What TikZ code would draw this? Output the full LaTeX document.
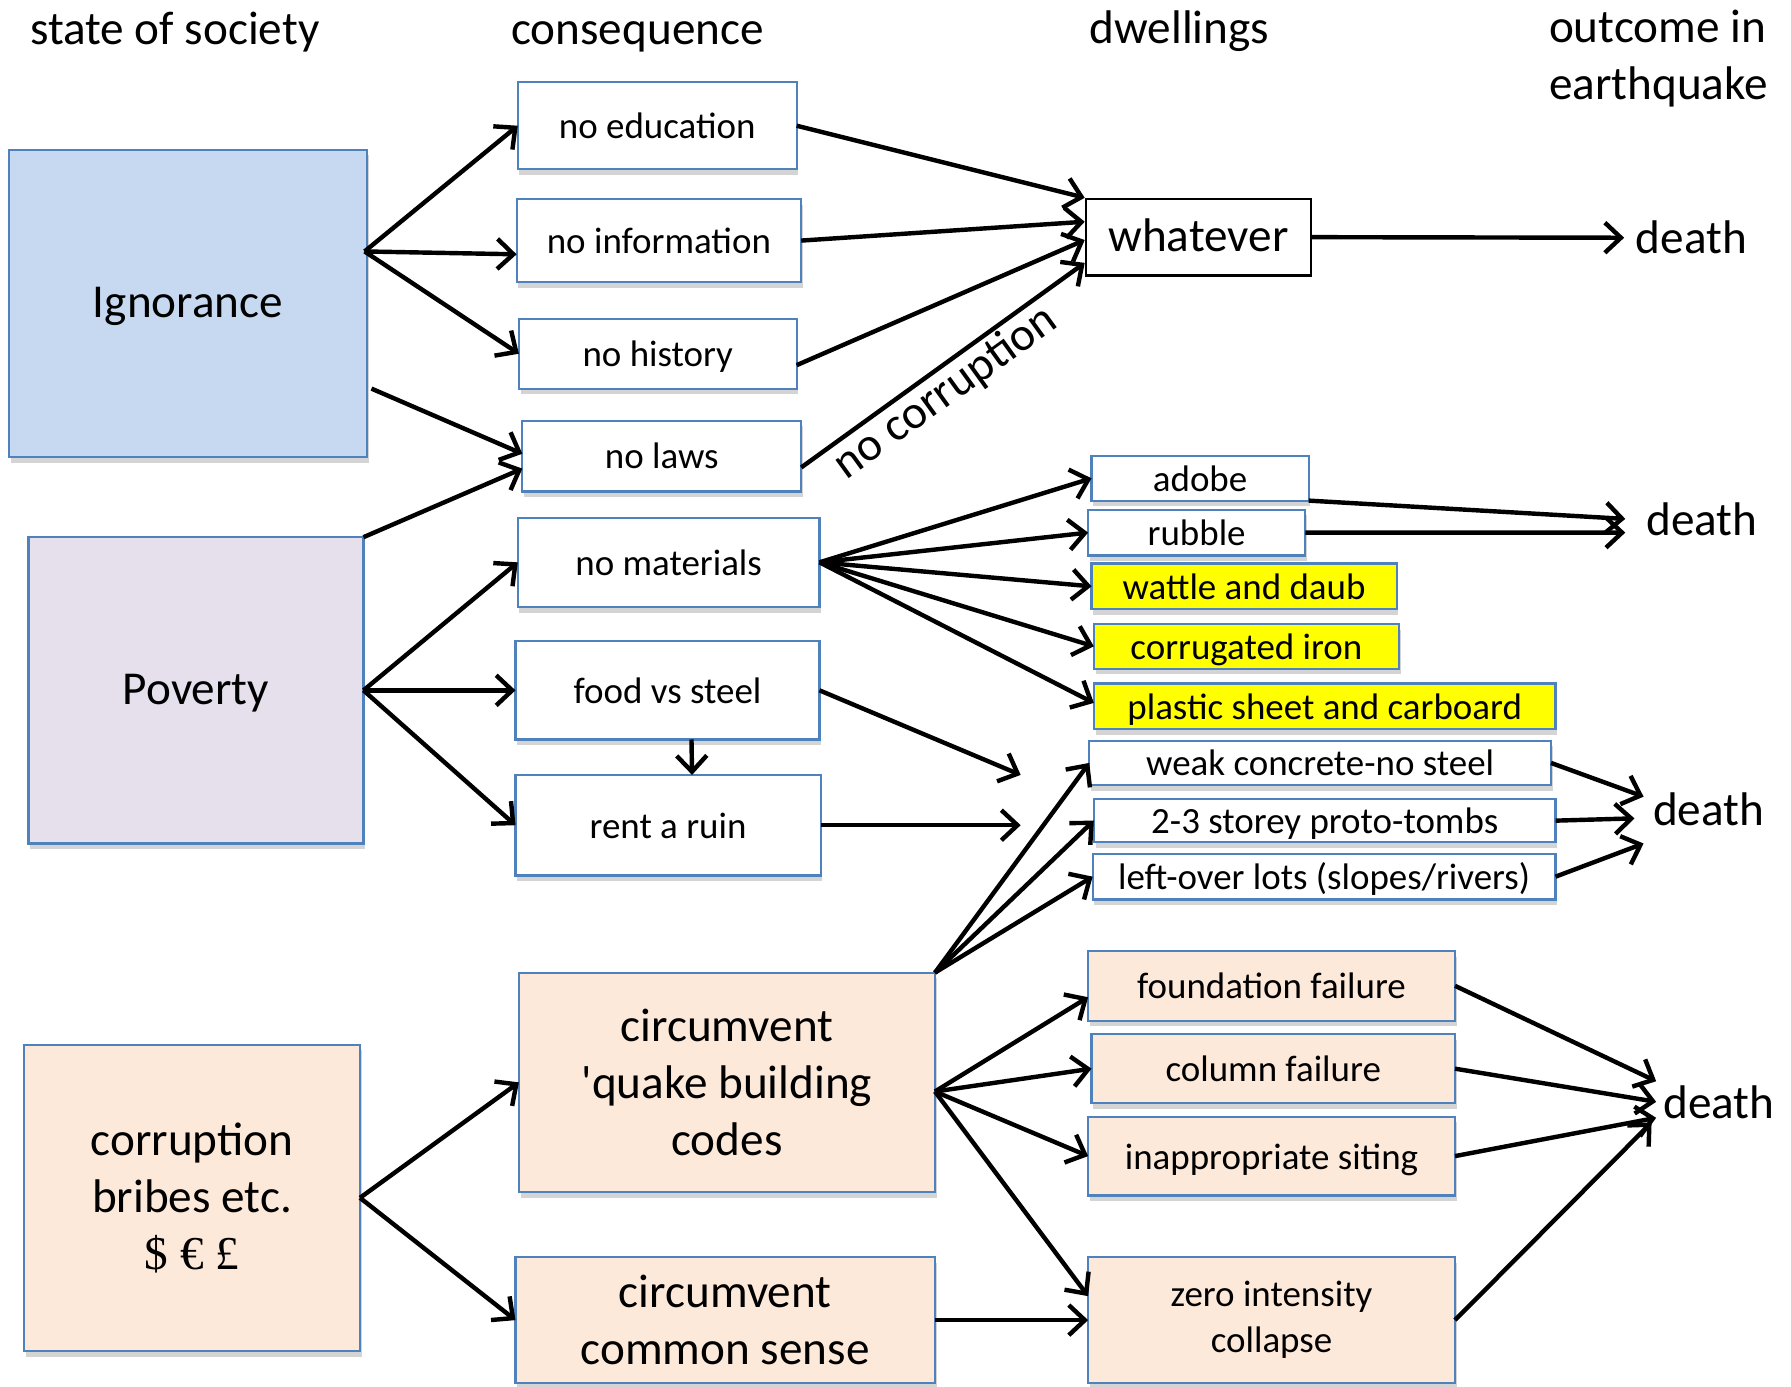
\documentclass[tikz,border=0pt]{standalone}
\usepackage{fontspec}
\setmainfont{Carlito}[Ligatures=TeXOff]
\newfontfamily\serifface{Liberation Serif}
\usetikzlibrary{arrows.meta,shadows,calc}
\definecolor{boxblue}{HTML}{4F81BD}
\definecolor{ignfill}{HTML}{C6D9F1}
\definecolor{povfill}{HTML}{E6E0EC}
\definecolor{peach}{HTML}{FDE9D9}
\definecolor{yel}{HTML}{FFFF00}
\newcommand\bx[7]{%
 \node[#6, minimum width={(#4-#2)*0.02cm}, minimum height={(#5-#3)*0.02cm}] (#1) at ({(#2+#4)/2},{(#3+#5)/2}) {#7};}
\tikzset{
 base/.style={draw=boxblue, line width=1.1pt, inner sep=0pt, outer sep=0pt,
   drop shadow={shadow xshift=0.03cm, shadow yshift=-0.1cm, fill=black!17, opacity=1}},
 bigfont/.style={font=\fontsize{23.5}{28.5}\selectfont},
 smfont/.style={font=\fontsize{18.4}{22.8}\selectfont},
 smbox/.style={base, fill=white, smfont, text height=14.7pt, text depth=1.8pt},
 smmulti/.style={base, smfont, align=center},
 bigbox/.style={base, bigfont, text height=17.6pt, text depth=3.5pt},
 bigmulti/.style={base, bigfont, align=center},
 hdr/.style={font=\fontsize{23.5}{28.5}\selectfont, inner sep=0pt, align=left},
 deathsty/.style={bigfont, inner sep=0pt, anchor=west},
 arr/.style={line width=2.2pt, -{Straight Barb[length=8pt,width=15pt]}},
}
\begin{document}
\begin{tikzpicture}[x=0.02cm,y=-0.02cm]
\useasboundingbox (0,0) rectangle (1567,1213);
% headers
\node[hdr, anchor=base west] (h1) at (26,39) {state of society};
\node[hdr, anchor=base west] (h2) at (447,39) {consequence};
\node[hdr, anchor=base west] (h3) at (953,38) {dwellings};
\node[hdr, anchor=north west] (h4) at (1355,8) {outcome in\\earthquake};
% state boxes
\bx{ign}{8}{131}{321}{400}{bigbox, fill=ignfill}{Ignorance}
\bx{pov}{25}{470}{318}{738}{bigbox, fill=povfill}{Poverty}
\bx{corr}{21}{914}{315}{1182}{bigmulti, fill=peach}{corruption\\bribes etc.\\{\serifface \$ € £}}
% consequences
\bx{noedu}{453}{72}{697}{148}{smbox}{no education}
\bx{noinfo}{452}{174}{701}{247}{smbox}{no information}
\bx{nohist}{454}{279}{697}{340}{smbox}{no history}
\bx{nolaws}{457}{368}{701}{430}{smbox}{no laws}
\bx{nomat}{453}{453}{717}{531}{smbox}{no materials}
\bx{food}{451}{561}{717}{647}{smbox}{food vs steel}
\bx{rent}{451}{678}{718}{766}{smbox}{rent a ruin}
\bx{codes}{454}{851}{818}{1043}{bigmulti, fill=peach}{circumvent\\'quake building\\codes}
\bx{sense}{451}{1100}{818}{1210}{bigmulti, fill=peach}{circumvent\\common sense}
% dwellings
\bx{what}{950}{174}{1147}{241}{draw=black, line width=1.1pt, fill=white, inner sep=0pt, bigfont, text height=17.6pt, text depth=3.5pt}{whatever}
\bx{adobe}{955}{399}{1145}{438}{smbox}{adobe}
\bx{rubble}{952}{446}{1142}{486}{smbox}{rubble}
\bx{wattle}{955}{493}{1222}{533}{smbox, fill=yel}{wattle and daub}
\bx{corrug}{957}{546}{1224}{585}{smbox, fill=yel}{corrugated iron}
\bx{plastic}{957}{598}{1361}{638}{smbox, fill=yel}{plastic sheet and carboard}
\bx{weak}{953}{648}{1357}{687}{smbox}{weak concrete-no steel}
\bx{proto}{957}{699}{1361}{737}{smbox}{2-3 storey proto-tombs}
\bx{left}{956}{747}{1361}{787}{smbox}{left-over lots (slopes/rivers)}
\bx{found}{952}{832}{1273}{893}{smbox, fill=peach}{foundation failure}
\bx{column}{955}{905}{1273}{965}{smbox, fill=peach}{column failure}
\bx{inapp}{952}{977}{1273}{1046}{smbox, fill=peach}{inappropriate siting}
\bx{zero}{952}{1100}{1273}{1210}{smmulti, fill=peach}{zero intensity\\collapse}
% outcomes
\node[deathsty] (d1) at (1431,208) {death};
\node[deathsty] (d2) at (1440,454) {death};
\node[deathsty] (d3) at (1446,708) {death};
\node[deathsty] (d4) at (1455,964) {death};
% named free points
\coordinate (ignfan) at (319,220);
\coordinate (ignlow) at (325,340);
\coordinate (fe) at (893,678);
\coordinate (re) at (893,722);
\coordinate (codesfan) at ([yshift=-0.16cm]codes.east);
% connectors
\draw[arr] (ignfan) -- (noedu.west);
\draw[arr] (ignfan) -- ([yshift=-0.24cm]noinfo.west);
\draw[arr] (ignfan) -- (nohist.west);
\draw[arr] (ignlow) -- ([yshift=0.04cm]nolaws.west);
\draw[arr] (pov.north east) -- ([yshift=-0.22cm]nolaws.west);
\draw[arr] (pov.east) -- (nomat.west);
\draw[arr] (pov.east) -- (food.west);
\draw[arr] (pov.east) -- (rent.west);
\draw[arr] ([xshift=0.42cm]food.south) -- ([xshift=0.42cm]rent.north);
\draw[arr] (food.east) -- (fe);
\draw[arr] (rent.east) -- (re);
\draw[arr] (corr.east) -- (codes.west);
\draw[arr] (corr.east) -- (sense.west);
\draw[arr] (sense.east) -- (zero.west);
\draw[arr] (codes.north east) -- (weak.west);
\draw[arr] (codes.north east) -- (proto.west);
\draw[arr] (codes.north east) -- (left.west);
\draw[arr] (codesfan) -- ([yshift=-0.2cm]found.west);
\draw[arr] (codesfan) -- (column.west);
\draw[arr] (codesfan) -- (inapp.west);
\draw[arr] (codesfan) -- ([yshift=0.42cm]zero.west);
\draw[arr] (nomat.east) -- (adobe.west);
\draw[arr] (nomat.east) -- (rubble.west);
\draw[arr] (nomat.east) -- (wattle.west);
\draw[arr] (nomat.east) -- (corrug.west);
\draw[arr] (nomat.east) -- ([yshift=0.06cm]plastic.west);
\draw[arr] (noedu.east) -- (what.north west);
\draw[arr] (noinfo.east) -- ([yshift=0.27cm]what.west);
\draw[arr] ([yshift=-0.2cm]nohist.east) -- ([yshift=-0.05cm]what.west);
\draw[arr] ([yshift=-0.2cm]nolaws.east) -- node[sloped, below, pos=0.46, bigfont, inner sep=1pt] {no corruption} ([yshift=-0.45cm]what.west);
\draw[arr] (what.east) -- ([xshift=-0.2cm]d1.west);
\draw[arr] (adobe.south east) -- ([xshift=-0.36cm]d2.west);
\draw[arr] (rubble.east) -- ([xshift=-0.36cm,yshift=-0.24cm]d2.west);
\draw[arr] (weak.east) -- ([xshift=-0.16cm,yshift=0.22cm]d3.west);
\draw[arr] (proto.east) -- ([xshift=-0.32cm,yshift=-0.16cm]d3.west);
\draw[arr] (left.east) -- ([xshift=-0.16cm,yshift=-0.6cm]d3.west);
\draw[arr] (found.east) -- ([xshift=-0.12cm,yshift=0.36cm]d4.west);
\draw[arr] (column.east) -- ([xshift=-0.12cm]d4.west);
\draw[arr] (inapp.east) -- ([xshift=-0.12cm,yshift=-0.28cm]d4.west);
\draw[arr] (zero.east) -- ([xshift=-0.2cm,yshift=-0.36cm]d4.west);
\end{tikzpicture}
\end{document}
